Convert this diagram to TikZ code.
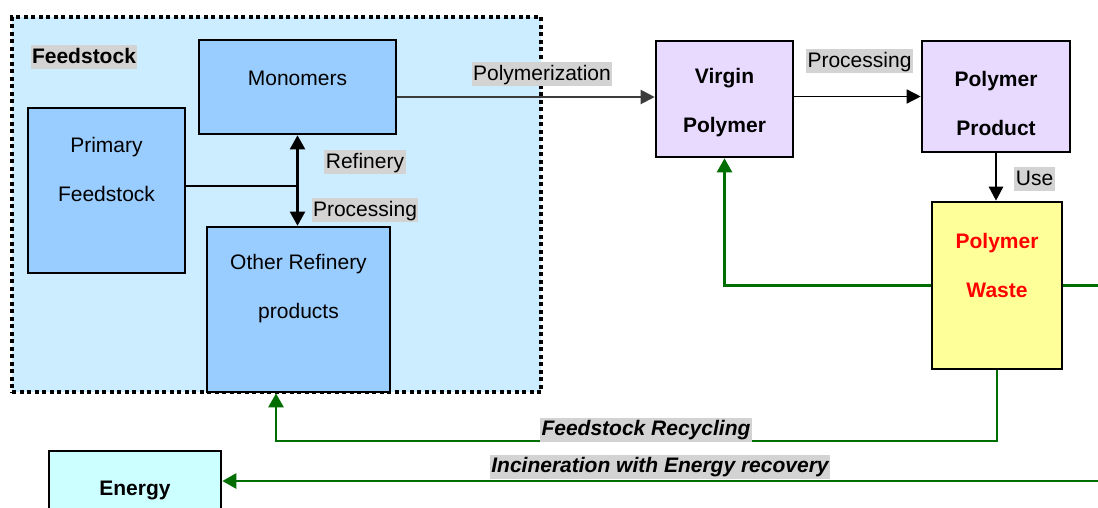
\documentclass[tikz,border=0pt]{standalone}
\usepackage{fontspec}
\setmainfont{Liberation Sans}
\usetikzlibrary{arrows.meta,calc}
\definecolor{contfill}{RGB}{204,236,255}
\definecolor{boxblue}{RGB}{153,204,255}
\definecolor{lav}{RGB}{232,218,255}
\definecolor{wastey}{RGB}{255,255,153}
\definecolor{energyc}{RGB}{204,255,255}
\definecolor{lblgray}{RGB}{211,211,211}
\definecolor{dgreen}{RGB}{0,110,0}
\definecolor{dgray}{RGB}{60,60,60}
\tikzset{
  blk/.style={draw=black, line width=2.6pt, inner sep=0pt},
  txt/.style={font=\fontsize{21}{49}\selectfont, align=center, inner sep=0pt},
  btxt/.style={txt, font=\fontsize{21}{49}\selectfont\bfseries},
  lbl/.style={fill=lblgray, font=\fontsize{21}{24}\selectfont, inner xsep=1.5pt, inner ysep=2pt, text height=16pt, text depth=4pt},
  glbl/.style={lbl, font=\fontsize{21}{24}\selectfont\bfseries\itshape},
  tip/.style={-{Triangle[length=14pt,width=14pt]}},
  conn/.style={tip, draw=black, line width=1.5pt},
  gline/.style={draw=dgreen, line width=2.5pt},
  garrow/.style={gline, -{Triangle[length=14pt,width=15pt]}}
}
\begin{document}
\begin{tikzpicture}[x=1pt,y=-1pt]
\useasboundingbox (0,0) rectangle (1098,507);
\clip (0,0) rectangle (1098,507);

% container
\node[fill=contfill, draw=black, line width=4pt, dash pattern=on 4pt off 3.5pt,
      minimum width=529pt, minimum height=375pt, inner sep=0pt] (cont) at (276.5,204.5) {};
\node[lbl, font=\fontsize{21}{24}\selectfont\bfseries] (feedlbl) at (84,57) {Feedstock};

% boxes
\node[blk, fill=boxblue, minimum width=197pt, minimum height=94pt] (mono) at (297.5,87) {};
\node[blk, fill=boxblue, minimum width=157pt, minimum height=165pt] (prim) at (106.5,190.5) {};
\node[blk, fill=boxblue, minimum width=183pt, minimum height=165pt] (other) at (298.5,309.5) {};
\node[blk, fill=lav, minimum width=137pt, minimum height=116pt] (virgin) at (724.5,99) {};
\node[blk, fill=lav, minimum width=148pt, minimum height=111pt] (prod) at (996,96.5) {};
\node[blk, fill=wastey, minimum width=130pt, minimum height=167pt] (waste) at (997,285.5) {};
\node[blk, fill=energyc, minimum width=172pt, minimum height=100pt] (energy) at (135,501) {};

% box texts
\node[txt] (mono-t) at (297.5,78) {Monomers};
\node[txt] (prim-t) at (106.5,169.5) {Primary\\Feedstock};
\node[txt] (other-t) at (298.5,288.5) {Other Refinery\\products};
\node[btxt] (virgin-t) at (724.5,103) {Virgin\\Polymer};
\node[btxt] (prod-t) at (996,103) {Polymer\\Product};
\node[btxt, text=red] (waste-t) at (997,265.5) {Polymer\\Waste};
\node[btxt] (energy-t) at (135,490) {Energy};

% black connectors
\coordinate (pm) at ($(virgin.west)+(0,-2)$);
\draw[conn, draw=dgray, line width=2pt] (mono.east |- pm) -- (pm);
\draw[conn] (virgin.east |- prod.west) -- (prod.west);
\draw[conn, line width=2.5pt] (prod.south) -- (prod.south |- waste.north);
\draw[conn, line width=2.2pt, {Triangle[length=14pt,width=15pt]}-{Triangle[length=14pt,width=15pt]}] (mono.south) -- (mono.south |- other.north);
\coordinate (junc) at (297.5,186);
\draw[line width=2.2pt] (prim.east |- junc) -- (junc);

% green connectors
\draw[garrow] (waste.west) -| (virgin.south);
\coordinate (rightA) at (1098,285.5);
\draw[gline] (waste.east) -- (rightA);
\coordinate (fr) at (276,441);
\draw[garrow] (waste.south) |- (fr) -- (fr |- other.south);
\coordinate (rightB) at (1098,481);
\draw[garrow] (rightB) -- (energy.east |- rightB);

% labels
\node[lbl] (l-poly) at (542,74) {Polymerization};
\node[lbl] (l-proc) at (859.5,61) {Processing};
\node[lbl] (l-use) at (1034.5,179) {Use};
\node[lbl] (l-ref) at (365,162) {Refinery};
\node[lbl] (l-proc2) at (365,210) {Processing};
\node[glbl] (l-fr) at (646,429.5) {Feedstock Recycling};
\node[glbl] (l-inc) at (660,466.5) {Incineration with Energy recovery};
\end{tikzpicture}
\end{document}
